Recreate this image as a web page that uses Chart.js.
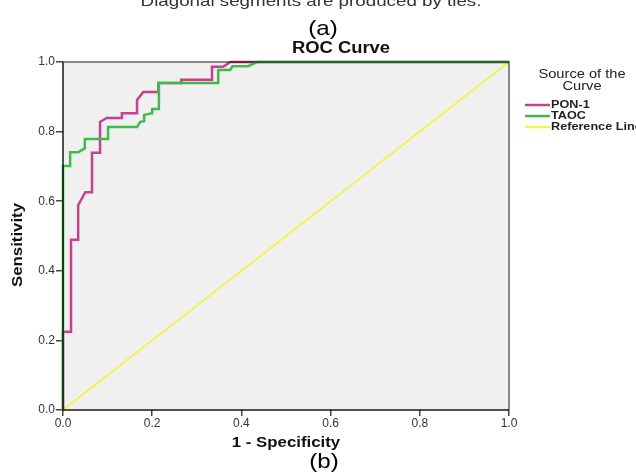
<!DOCTYPE html>
<html>
<head>
<meta charset="utf-8">
<script src="https://cdn.jsdelivr.net/npm/chart.js@4"></script>
<style>
html,body{margin:0;padding:0;background:#fff;}
canvas{display:block;}
</style>
</head>
<body>
<canvas id="c" width="636" height="476" style="width:636px;height:476px"></canvas>
<script>
// ---- data ----
const pon1Fpr = [0, 0, 0.018, 0.018, 0.034, 0.034, 0.050, 0.065, 0.065, 0.083, 0.083, 0.098, 0.132, 0.132, 0.166, 0.166, 0.180, 0.214, 0.214, 0.265, 0.265, 0.334, 0.334, 0.359, 0.375, 1.0];
const pon1Tpr = [0, 0.225, 0.225, 0.489, 0.489, 0.589, 0.626, 0.626, 0.739, 0.739, 0.828, 0.839, 0.839, 0.853, 0.853, 0.891, 0.914, 0.914, 0.940, 0.940, 0.949, 0.949, 0.986, 0.986, 1.0, 1.0];
const taocFpr = [0, 0, 0.016, 0.016, 0.034, 0.045, 0.049, 0.049, 0.101, 0.101, 0.166, 0.173, 0.182, 0.182, 0.200, 0.200, 0.215, 0.215, 0.348, 0.348, 0.375, 0.380, 0.415, 0.435, 1.0];
const taocTpr = [0, 0.701, 0.701, 0.741, 0.741, 0.749, 0.752, 0.779, 0.779, 0.813, 0.813, 0.828, 0.830, 0.848, 0.853, 0.865, 0.865, 0.940, 0.940, 0.977, 0.977, 0.988, 0.988, 1.0, 1.0];
const refFpr = [0, 1];
const refTpr = [0, 1];
const seriesNames = ['PON-1', 'TAOC', 'Reference Line'];
const seriesColors = ['#c8418c', '#3fbb48', '#f3f352'];
const tickValues = [0, 0.2, 0.4, 0.6, 0.8, 1.0];

const pts = (xs, ys) => xs.map((x, i) => ({x: x, y: ys[i]}));

function sText(ctx, txt, x, y, font, color, align, rot, sx) {
  ctx.save();
  ctx.translate(x, y);
  if (rot) ctx.rotate(rot);
  ctx.scale(sx || 1.2, 1);
  ctx.font = font;
  ctx.fillStyle = color;
  ctx.textAlign = align || 'center';
  ctx.textBaseline = 'middle';
  ctx.fillText(txt, 0, 0);
  ctx.restore();
}

const deco = {
  id: 'deco',
  beforeDraw(chart) {
    const ctx = chart.ctx, a = chart.chartArea;
    ctx.save();
    ctx.fillStyle = '#ffffff';
    ctx.fillRect(0, 0, chart.width, chart.height);
    ctx.fillStyle = '#f0f0f0';
    ctx.fillRect(a.left, a.top, a.right - a.left, a.bottom - a.top);
    ctx.restore();
  },
  afterDatasetsDraw(chart) {
    const ctx = chart.ctx, a = chart.chartArea;
    ctx.save();
    ctx.lineWidth = 2;
    ctx.strokeStyle = 'rgba(0,0,0,0.45)';
    ctx.beginPath();
    ctx.moveTo(a.left, a.top); ctx.lineTo(a.right, a.top); ctx.lineTo(a.right, a.bottom);
    ctx.stroke();
    ctx.strokeStyle = 'rgba(0,0,0,0.68)';
    ctx.beginPath();
    ctx.moveTo(a.left, a.top); ctx.lineTo(a.left, a.bottom); ctx.lineTo(a.right, a.bottom);
    ctx.stroke();
    ctx.restore();
  },
  afterDraw(chart) {
    const ctx = chart.ctx, a = chart.chartArea;
    const fam = "'Liberation Sans', Arial, sans-serif";
    sText(ctx, 'Diagonal segments are produced by ties.', 311, 2, '15px ' + fam, '#333', 'center', 0, 1.25);
    sText(ctx, '(a)', 323, 29, '21px ' + fam, '#000', 'center', 0, 1.15);
    sText(ctx, 'ROC Curve', 341, 49, 'bold 16px ' + fam, '#111', 'center', 0, 1.15);
    sText(ctx, '1 - Specificity', (a.left + a.right) / 2, 443, 'bold 14px ' + fam, '#111', 'center', 0, 1.2);
    sText(ctx, '(b)', 324, 462, '21px ' + fam, '#000', 'center', 0, 1.15);
    sText(ctx, 'Sensitivity', 18, 245, 'bold 14px ' + fam, '#111', 'center', -Math.PI / 2, 1.2);
    // legend
    sText(ctx, 'Source of the', 582, 75, '12px ' + fam, '#222', 'center', 0, 1.22);
    sText(ctx, 'Curve', 582, 87, '12px ' + fam, '#222', 'center', 0, 1.22);
    const ly = [105, 116, 127];
    seriesNames.forEach((n, i) => {
      ctx.save();
      ctx.strokeStyle = seriesColors[i];
      ctx.lineWidth = 2.5;
      ctx.beginPath();
      ctx.moveTo(525, ly[i]); ctx.lineTo(550, ly[i]);
      ctx.stroke();
      ctx.restore();
      sText(ctx, n, 551, ly[i], 'bold 11px ' + fam, '#222', 'left', 0, 1.15);
    });
  }
};

const tickFont = {family: "'Liberation Sans', Arial, sans-serif", size: 12};

new Chart(document.getElementById('c'), {
  type: 'scatter',
  data: {
    datasets: [
      {label: seriesNames[1], data: pts(taocFpr, taocTpr), borderColor: seriesColors[1], order: 0},
      {label: seriesNames[0], data: pts(pon1Fpr, pon1Tpr), borderColor: seriesColors[0], order: 1},
      {label: seriesNames[2], data: pts(refFpr, refTpr), borderColor: seriesColors[2], order: 2, borderWidth: 2}
    ].map(d => Object.assign({showLine: true, pointRadius: 0, borderWidth: 2.5, tension: 0, fill: false, clip: 4}, d))
  },
  options: {
    responsive: false,
    animation: false,
    devicePixelRatio: 1,
    layout: {padding: {left: 0, right: 127, top: 62, bottom: 0}},
    plugins: {legend: {display: false}, tooltip: {enabled: false}, title: {display: false}},
    scales: {
      x: {
        type: 'linear', min: 0, max: 1,
        afterBuildTicks: s => { s.ticks = tickValues.map(v => ({value: v})); },
        ticks: {callback: v => Number(v).toFixed(1), font: tickFont, color: '#333', padding: 0, maxRotation: 0, autoSkip: false},
        grid: {drawOnChartArea: false, drawTicks: true, tickLength: 6, color: '#444', lineWidth: 1.5},
        border: {display: false},
        afterFit: s => { s.height = 66; }
      },
      y: {
        type: 'linear', min: 0, max: 1,
        afterBuildTicks: s => { s.ticks = tickValues.map(v => ({value: v})); },
        ticks: {callback: v => Number(v).toFixed(1), font: tickFont, color: '#333', padding: 1, autoSkip: false},
        grid: {drawOnChartArea: false, drawTicks: true, tickLength: 7, color: '#444', lineWidth: 1.5},
        border: {display: false},
        afterFit: s => { s.width = 63; }
      }
    }
  },
  plugins: [deco]
});
</script>
</body>
</html>
